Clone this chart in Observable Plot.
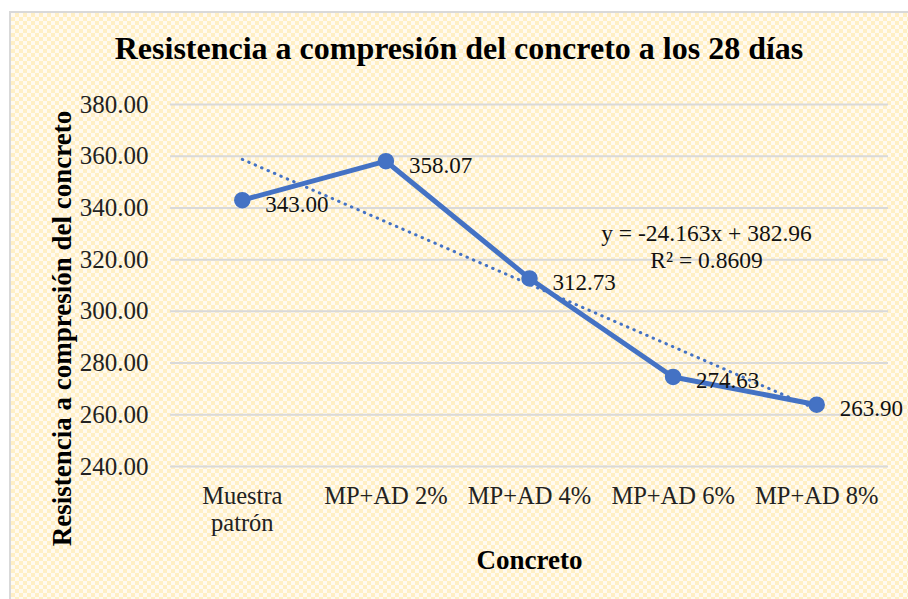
<!DOCTYPE html>
<html>
<head>
<meta charset="utf-8">
<script src="https://cdn.jsdelivr.net/npm/d3@7"></script>
<script src="https://cdn.jsdelivr.net/npm/@observablehq/plot@0.6"></script>
<style>
  html, body { margin: 0; padding: 0; background: #fff; }
  #wrap { position: relative; width: 908px; height: 599px; overflow: hidden; font-family: "Liberation Serif", "Times New Roman", serif; }
  #frame { position: absolute; left: 9px; top: 11px; width: 905px; height: 590px; border: 2px solid #d9d9d9; box-sizing: border-box;
    background-color: #fff7e0;
    background-image: conic-gradient(#ffefc4 25%, #fffaf0 0 50%, #ffefc4 0 75%, #fffaf0 0);
    background-size: 8px 8px; }
  #title { position: absolute; left: 0; width: 918px; top: 30px; text-align: center; font-weight: bold; font-size: 32px; color: #000; }
  #chart { position: absolute; left: 0; top: 0; }
  #chart svg { background: transparent; }
  #chart svg, #chart svg text { font-family: "Liberation Serif", "Times New Roman", serif !important; }
  g[aria-label="x-axis label"] text { font-weight: bold; font-size: 27px; fill: #000; }
</style>
</head>
<body>
<div id="wrap">
  <div id="frame"></div>
  <div id="title">Resistencia a compresión del concreto a los 28 días</div>
  <div id="chart"></div>
</div>
<script>
const categories = ["Muestra\npatrón", "MP+AD 2%", "MP+AD 4%", "MP+AD 6%", "MP+AD 8%"];
const values = [343.00, 358.07, 312.73, 274.63, 263.90];
const yTicks = [240, 260, 280, 300, 320, 340, 360, 380];
const equationLines = ["y = -24.163x + 382.96", "R² = 0.8609"];
const yLabel = "Resistencia a compresión del concreto";
const xLabel = "Concreto";

const data = categories.map((c, i) => ({idx: i + 1, cat: c, value: values[i]}));
const blue = "#4472c4";
const font = "'Liberation Serif', 'Times New Roman', serif";

const chart = Plot.plot({
  width: 908,
  height: 599,
  marginLeft: 170,
  marginRight: 20,
  marginTop: 104,
  marginBottom: 133,
  style: {fontFamily: font, fontSize: "24px", color: "#000", background: "transparent"},
  x: {type: "linear", domain: [0.5, 5.5]},
  y: {domain: [240, 380]},
  marks: [
    Plot.gridY(yTicks, {stroke: "#d9d9d9", strokeOpacity: 1, strokeWidth: 2}),
    Plot.axisY({ticks: yTicks, tickSize: 0, tickPadding: 22, tickFormat: d3.format(".2f"), fontSize: 25, fontFamily: font, fill: "#222", label: null}),
    Plot.text([yLabel], {frameAnchor: "left", textAnchor: "middle", rotate: -90, dx: -108, dy: 43, fontSize: 27, fontWeight: "bold", fontFamily: font, fill: "#000"}),
    Plot.axisX({ticks: data.map(d => d.idx), tickSize: 0, tickPadding: 18, tickFormat: i => categories[i - 1], fontSize: 24.5, fontFamily: font, fill: "#222", lineHeight: 1.1,
      label: xLabel, labelAnchor: "center", labelArrow: "none", labelOffset: 102}),
    Plot.linearRegressionY(data, {x: "idx", y: "value", stroke: blue, strokeWidth: 3, strokeDasharray: "0.5,6.5", strokeLinecap: "round", ci: 0}),
    Plot.line(data, {x: "idx", y: "value", stroke: blue, strokeWidth: 5}),
    Plot.dot(data, {x: "idx", y: "value", r: 7.5, fill: blue, stroke: blue}),
    Plot.text(data, {x: "idx", y: "value", text: d => d3.format(".2f")(d.value), textAnchor: "start", dx: 23, dy: 4, fontSize: 23, fontFamily: font, fill: "#111"}),
    Plot.text([equationLines.join("\n")], {frameAnchor: "top-left", dx: 536, dy: 118, textAnchor: "middle", lineAnchor: "top", lineHeight: 1.12, fontSize: 23.5, fontFamily: font, fill: "#111"})
  ]
});
document.getElementById("chart").appendChild(chart);
</script>
</body>
</html>
